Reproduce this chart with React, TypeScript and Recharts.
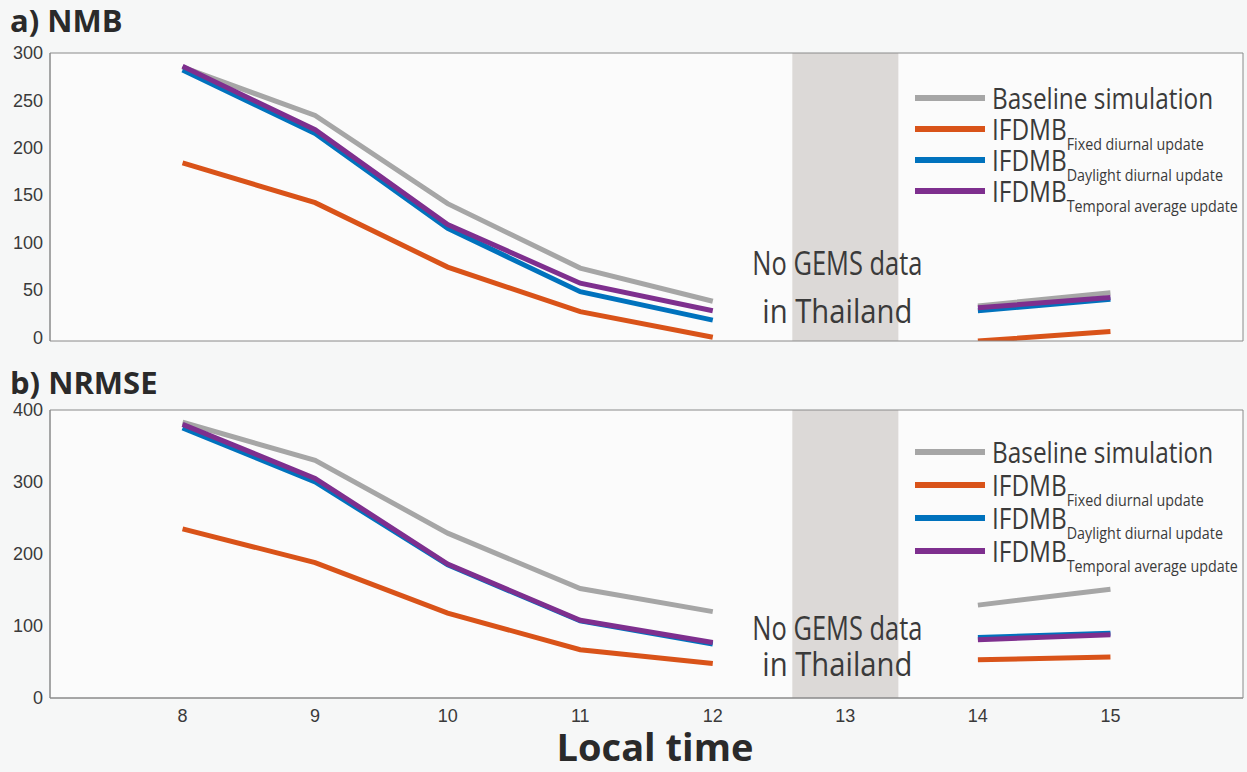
import { LineChart, Line, XAxis, YAxis, ReferenceArea, CartesianGrid, Legend } from 'recharts'

const hours = [8, 9, 10, 11, 12, 13, 14, 15]
const xTicks = [8, 9, 10, 11, 12, 13, 14, 15]

const nmbBaseline = [285, 234, 141, 73, 38, null, 33, 47]
const nmbFixed = [184, 142, 74, 27, 0, null, -4, 6]
const nmbDaylight = [282, 215, 115, 48, 18, null, 28, 40]
const nmbTemporal = [286, 219, 119, 57, 28, null, 31, 42]
const nmbTicks = [0, 50, 100, 150, 200, 250, 300]

const nrmseBaseline = [383, 330, 229, 152, 120, null, 129, 151]
const nrmseFixed = [235, 188, 118, 67, 48, null, 53, 57]
const nrmseDaylight = [375, 300, 185, 107, 75, null, 84, 90]
const nrmseTemporal = [380, 305, 186, 108, 77, null, 81, 88]
const nrmseTicks = [0, 100, 200, 300, 400]

const seriesNames = ['Baseline simulation', 'Fixed diurnal update', 'Daylight diurnal update', 'Temporal average update']
const colors = ['#a6a6a6', '#d95319', '#0072bd', '#7e2f8e']
const keys = ['base', 'fixed', 'day', 'temp']

const AXIS = '#8a8a8a'
const TXT = '#3a3a3a'
const SANS = '"Open Sans", sans-serif'
const TICKFONT = '"Liberation Sans", Arial, sans-serif'

const build = (cols: (number | null)[][]) =>
  hours.map((t, i) => ({ t, base: cols[0][i], fixed: cols[1][i], day: cols[2][i], temp: cols[3][i] }))

const nmbData = build([nmbBaseline, nmbFixed, nmbDaylight, nmbTemporal])
const nrmseData = build([nrmseBaseline, nrmseFixed, nrmseDaylight, nrmseTemporal])

function LegendBox({ rowH }: { rowH: number }) {
  return (
    <div style={{ fontFamily: SANS, color: TXT }}>
      {seriesNames.map((n, i) => (
        <div key={n} style={{ display: 'flex', alignItems: 'center', height: rowH }}>
          <span style={{ display: 'inline-block', width: 70, height: 6, background: colors[i], marginRight: 7, flex: 'none' }} />
          <span
            style={{
              display: 'inline-block',
              fontSize: 29,
              lineHeight: 1,
              whiteSpace: 'nowrap',
              transform: 'scaleX(0.84)',
              transformOrigin: 'left center',
            }}
          >
            {i === 0 ? n : (
              <>
                IFDMB
                <span style={{ fontSize: 17, position: 'relative', top: 10 }}>{n}</span>
              </>
            )}
          </span>
        </div>
      ))}
    </div>
  )
}

const gapLabel = (y1: number, y2: number) => (props: any) => {
  const vb = props.viewBox || {}
  const cx = vb.x + vb.width / 2 - 8
  return (
    <g fontFamily={SANS} fontSize={32} fill={TXT} textAnchor="middle">
      <text x={cx} y={vb.y + y1} dominantBaseline="central" textLength={170} lengthAdjust="spacingAndGlyphs">No GEMS data</text>
      <text x={cx} y={vb.y + y2} dominantBaseline="central" textLength={150} lengthAdjust="spacingAndGlyphs">in Thailand</text>
    </g>
  )
}

function Panel({ data, domain, ticks, showX, height, top, bottom, legendTop, rowH, textY }: any) {
  return (
    <LineChart
      width={1247}
      height={height}
      data={data}
      margin={{ top, right: 4, left: 0, bottom }}
    >
      <CartesianGrid horizontal={false} vertical={false} fill="#fbfbfb" />
      <XAxis
        dataKey="t"
        type="number"
        domain={[7, 16]}
        ticks={xTicks}
        interval={0}
        stroke={AXIS}
        tickLine={false}
        tickSize={0}
        tickMargin={11}
        height={showX ? 30 : 0}
        tick={showX ? { fill: TXT, fontSize: 18, fontFamily: TICKFONT } : false}
      />
      <XAxis xAxisId="bm" dataKey="t" type="number" domain={[7, 16]} ticks={xTicks} interval={0} stroke={AXIS} mirror tick={false} tickSize={8} />
      <XAxis xAxisId="tm" orientation="top" dataKey="t" type="number" domain={[7, 16]} ticks={xTicks} interval={0} stroke={AXIS} mirror tick={false} tickSize={8} />
      <YAxis
        domain={domain}
        ticks={ticks}
        interval={0}
        allowDataOverflow
        width={50}
        stroke={AXIS}
        tickLine={false}
        tickSize={0}
        tickMargin={7}
        tick={{ fill: TXT, fontSize: 18, fontFamily: TICKFONT }}
      />
      <YAxis yAxisId="lm" domain={domain} ticks={ticks} interval={0} allowDataOverflow stroke={AXIS} mirror tick={false} tickSize={8} />
      <YAxis yAxisId="rm" orientation="right" domain={domain} ticks={ticks} interval={0} allowDataOverflow stroke={AXIS} mirror tick={false} tickSize={8} />
      <ReferenceArea x1={12.6} x2={13.4} fill="#dcd9d7" fillOpacity={1} stroke="none" label={gapLabel(textY[0], textY[1])} />
      {keys.map((k, i) => (
        <Line
          key={k}
          dataKey={k}
          stroke={colors[i]}
          strokeWidth={5}
          dot={false}
          activeDot={false}
          connectNulls={false}
          isAnimationActive={false}
        />
      ))}
      <Legend
        layout="horizontal"
        verticalAlign="middle"
        align="center"
        wrapperStyle={{ left: 915, top: legendTop, width: 'auto' }}
        content={() => <LegendBox rowH={rowH} />}
      />
    </LineChart>
  )
}

const titleStyle = { position: 'absolute' as const, left: 10, fontFamily: SANS, fontWeight: 700, fontSize: 31, color: '#2a2a2a', lineHeight: 1 }

export default function App() {
  return (
    <div style={{ position: 'absolute', left: 0, top: 0, width: 1247, height: 772, background: '#f6f7f7', overflow: 'hidden' }}>
      <div style={{ position: 'absolute', left: 0, top: 0 }}>
        <Panel data={nmbData} domain={[-4, 300]} ticks={nmbTicks} showX={false} height={352} top={53} bottom={11} legendTop={82} rowH={31} textY={[209, 257]} />
      </div>
      <div style={{ position: 'absolute', left: 0, top: 360 }}>
        <Panel data={nrmseData} domain={[0, 400]} ticks={nrmseTicks} showX height={368} top={50} bottom={0} legendTop={75} rowH={33} textY={[217, 253]} />
      </div>
      <div style={{ ...titleStyle, top: 5 }}>a) NMB</div>
      <div style={{ ...titleStyle, top: 367 }}>b) NRMSE</div>
      <div style={{ position: 'absolute', left: 455, width: 400, top: 727, textAlign: 'center', fontFamily: SANS, fontWeight: 700, fontSize: 38, lineHeight: 1, color: '#2a2a2a' }}>
        Local time
      </div>
    </div>
  )
}
